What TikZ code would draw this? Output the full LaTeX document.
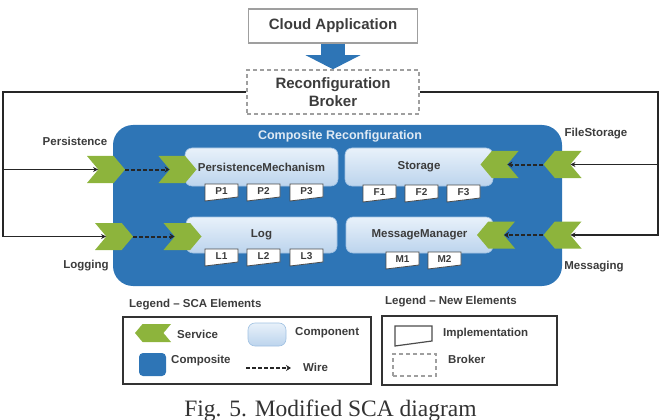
\documentclass[tikz,border=0pt]{standalone}
\usepackage{fontspec}
\setmainfont{Liberation Serif}
\newfontfamily\diagfont{Liberation Sans}
\usetikzlibrary{positioning}
\usetikzlibrary{shapes.symbols}
\usetikzlibrary{arrows.meta}

\definecolor{compblue}{RGB}{46,117,182}
\definecolor{servgreen}{RGB}{141,180,60}
\definecolor{comptop}{RGB}{232,241,250}
\definecolor{compbot}{RGB}{188,212,237}
\definecolor{txtgray}{RGB}{60,60,60}

\tikzset{
    box/.style={draw=gray!75, line width=1.5pt, fill=white, align=center,
        font=\diagfont\bfseries\fontsize{15}{18}\selectfont, text=txtgray},
    brokerbox/.style={box, dashed, dash pattern=on 4pt off 3pt},
    composite/.style={fill=compblue, rounded corners=20pt, inner sep=0pt},
    comptitle/.style={font=\diagfont\bfseries\fontsize{12.5}{15}\selectfont, text=white!85!compblue},
    comp/.style={draw=compbot!80!compblue, line width=0.6pt, rounded corners=7pt,
        top color=comptop, bottom color=compbot, inner sep=0pt,
        font=\diagfont\bfseries\fontsize{11.5}{14}\selectfont, text=txtgray},
    service/.style={shape=signal, fill=servgreen, inner sep=0pt,
        minimum width=38pt, minimum height=27pt, signal pointer angle=100},
    servr/.style={service, signal from=west, signal to=east},
    servl/.style={service, signal from=east, signal to=west},
    impl/.style={draw=gray!60!black, line width=0.8pt, fill=white},
    impltxt/.style={inner sep=0pt, font=\diagfont\bfseries\fontsize{10}{12}\selectfont, text=txtgray},
    lbl/.style={inner sep=0pt, font=\diagfont\bfseries\fontsize{11.5}{14}\selectfont, text=txtgray},
    link/.style={draw=black!85, line width=1.5pt, -{Stealth[length=5pt,width=5pt]}},
    wire/.style={draw=black!85, line width=2pt, dash pattern=on 4pt off 2pt,
        -{Stealth[length=5pt,width=6pt]}},
    blockarrow/.style={draw=compblue, line width=24pt, -{Triangle[width=54pt,length=14pt]}},
    lgbox/.style={draw=gray!40!black, line width=1.5pt, inner sep=0pt}
}

\begin{document}
\begin{tikzpicture}[x=1pt,y=-1pt]
    \useasboundingbox (0,0) rectangle (665,420);

    % application and broker
    \node[box, minimum width=169pt, minimum height=34pt, inner sep=0pt] (cloud) at (333,26) {Cloud Application};
    \node[brokerbox, minimum width=172pt, minimum height=44pt, inner sep=0pt] (broker) at (333,92) {Reconfiguration\\Broker};
    \draw[blockarrow] (cloud.south) -- (broker.north);

    % composite
    \node[composite, minimum width=449pt, minimum height=161pt] (comp) at (337.5,205.5) {};
    \node[comptitle] (comptitle) at (340,136) {Composite Reconfiguration};

    % components
    \node[comp, minimum width=153pt, minimum height=38pt] (pm) at (261.5,167) {PersistenceMechanism};
    \node[comp, minimum width=148pt, minimum height=38pt] (storage) at (419,167) {Storage};
    \node[comp, minimum width=151pt, minimum height=36pt] (log) at (261.5,235) {Log};
    \node[comp, minimum width=147pt, minimum height=36pt] (msg) at (419.5,235) {MessageManager};

    % implementations
    \foreach \n/\x/\y/\lab in {p1/205/184/P1, p2/247/184/P2, p3/290/184/P3,
                               f1/363/185/F1, f2/405/185/F2, f3/447/185/F3,
                               l1/205/249/L1, l2/247/249/L2, l3/290/249/L3,
                               m1/386/252/M1, m2/428/252/M2}{
        \draw[impl] (\x,\y) -- ++(33,0) -- ++(0,13) -- ++(-33,4) -- cycle;
        \node[impltxt] (\n) at (\x+16.5,\y+7.5) {\lab};
    }

    % services
    \node[servr] (s1) at (106,169.5) {};
    \node[servr] (s2) at (177.5,169.5) {};
    \node[servr] (s3) at (114,236.5) {};
    \node[servr] (s4) at (182.5,236.5) {};
    \node[servl] (s5) at (562.5,164.5) {};
    \node[servl] (s6) at (499.5,164.5) {};
    \node[servl] (s7) at (562.5,235) {};
    \node[servl] (s8) at (496,235) {};

    \node[lbl] (persist) at (75,141) {Persistence};
    \node[lbl] (logging) at (86,266) {Logging};
    \node[lbl] (filest) at (596,134) {FileStorage};
    \node[lbl] (messaging) at (594,267) {Messaging};

    % wires
    \draw[wire] (s1.east) -- (s2.west);
    \draw[wire] (s3.east) -- (s4.west);
    \draw[wire] (s5.west) -- (s6.east);
    \draw[wire] (s7.west) -- (s8.east);

    % links from broker
    \coordinate (ltop) at (3,92);
    \coordinate (rtop) at (658,92);
    \draw[link] (broker.west) -- (ltop) |- (s1.west);
    \draw[link] (ltop) |- (s3.west);
    \draw[link] (broker.east) -- (rtop) |- (s5.east);
    \draw[link] (rtop) |- (s7.east);

    % legend - sca elements
    \begin{scope}
        \node[lbl, anchor=west] (lgsca) at (129,305) {Legend – SCA Elements};
        \node[lgbox, minimum width=248pt, minimum height=67pt] (lgscabox) at (247,350.5) {};
        \node[servl, minimum width=36pt, minimum height=18pt] (lgserv) at (153,333) {};
        \node[lbl, anchor=west] (lgservtxt) at (177,334) {Service};
        \node[comp, minimum width=38pt, minimum height=23pt] (lgcomp) at (267,334.5) {};
        \node[lbl, anchor=west] (lgcomptxt) at (295,333) {Component};
        \node[composite, rounded corners=4pt, minimum width=27pt, minimum height=23pt] (lgcompo) at (152.5,364.5) {};
        \node[lbl, anchor=west] (lgcompotxt) at (171,361) {Composite};
        \coordinate (wa) at (246,368);
        \coordinate (wb) at (291,368);
        \draw[wire] (wa) -- (wb);
        \node[lbl, anchor=west] (lgwiretxt) at (303,367) {Wire};
    \end{scope}

    % legend - new elements
    \begin{scope}
        \node[lbl, anchor=west] (lgnew) at (385,302) {Legend – New Elements};
        \node[lgbox, minimum width=175pt, minimum height=69pt] (lgnewbox) at (469.5,350.5) {};
        \draw[impl, line width=1.2pt] (395,326) -- ++(37,0) -- ++(0,15) -- ++(-37,5) -- cycle;
        \node[lbl, anchor=west] (lgimpltxt) at (443,334) {Implementation};
        \node[brokerbox, line width=1.2pt, minimum width=43pt, minimum height=22pt, inner sep=0pt] (lgbroker) at (414.5,365) {};
        \node[lbl, anchor=west] (lgbrokertxt) at (448,359) {Broker};
    \end{scope}

    % caption
    \node[anchor=base, inner sep=0pt, font=\fontsize{23.5}{28}\selectfont, text=black!80] (caption) at (330.5,416) {Fig. 5. Modified SCA diagram};
\end{tikzpicture}
\end{document}
